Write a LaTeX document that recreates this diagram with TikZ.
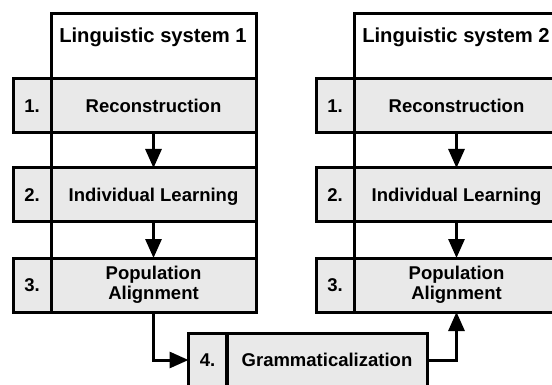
\documentclass[tikz,border=0pt]{standalone}
\usepackage{fontspec}
\setmainfont{Liberation Sans}
\usetikzlibrary{arrows.meta}
\definecolor{cellgray}{RGB}{233,233,233}
\begin{document}
\begin{tikzpicture}[x=1pt,y=-1pt,
  box/.style={draw, line width=3pt, inner sep=0pt, outer sep=0pt},
  frame/.style={box, minimum width=205pt, minimum height=298pt},
  title/.style={font=\bfseries\fontsize{20.2}{22}\selectfont, inner sep=0pt,
    text height=18.5pt, text depth=4pt},
  cell/.style={box, fill=cellgray, minimum height=54pt,
    font=\bfseries\fontsize{18.5}{20.5}\selectfont},
  oneline/.style={text height=17.2pt, text depth=3.95pt},
  numcell/.style={cell, oneline, minimum width=38pt},
  stepcell/.style={cell, minimum width=205pt},
  gramcell/.style={cell, oneline, minimum width=200pt},
  flow/.style={-{Triangle[width=16pt,length=19pt]}, line width=3pt}
]
\useasboundingbox (0,0) rectangle (552,385);

% linguistic system 1
\node[frame] (sysA) at (153.5,163) {};
\node[title] (titleA) at (153,35) {Linguistic system 1};
\node[numcell] (nA1) at (32,106) {1.};
\node[stepcell, oneline] (sA1) at (153.5,106) {Reconstruction};
\node[numcell] (nA2) at (32,195) {2.};
\node[stepcell, oneline] (sA2) at (153.5,195) {Individual Learning};
\node[numcell] (nA3) at (32,285) {3.};
\node[stepcell, align=center] (sA3) at (153.5,285) {Population\\Alignment};

% linguistic system 2
\node[frame] (sysB) at (456.5,163) {};
\node[title] (titleB) at (456,35) {Linguistic system 2};
\node[numcell] (nB1) at (335,106) {1.};
\node[stepcell, oneline] (sB1) at (456.5,106) {Reconstruction};
\node[numcell] (nB2) at (335,195) {2.};
\node[stepcell, oneline] (sB2) at (456.5,195) {Individual Learning};
\node[numcell] (nB3) at (335,285) {3.};
\node[stepcell, align=center] (sB3) at (456.5,285) {Population\\Alignment};

% grammaticalization step
\node[numcell] (n4) at (207.5,360) {4.};
\node[gramcell] (s4) at (327,360) {Grammaticalization};

% flow between the steps
\draw[flow] (sA1.south) -- (sA2.north);
\draw[flow] (sA2.south) -- (sA3.north);
\draw[flow] (sB1.south) -- (sB2.north);
\draw[flow] (sB2.south) -- (sB3.north);
\draw[flow] (sA3.south) |- (n4.west);
\draw[flow] (s4.east) -| (sB3.south);
\end{tikzpicture}
\end{document}
